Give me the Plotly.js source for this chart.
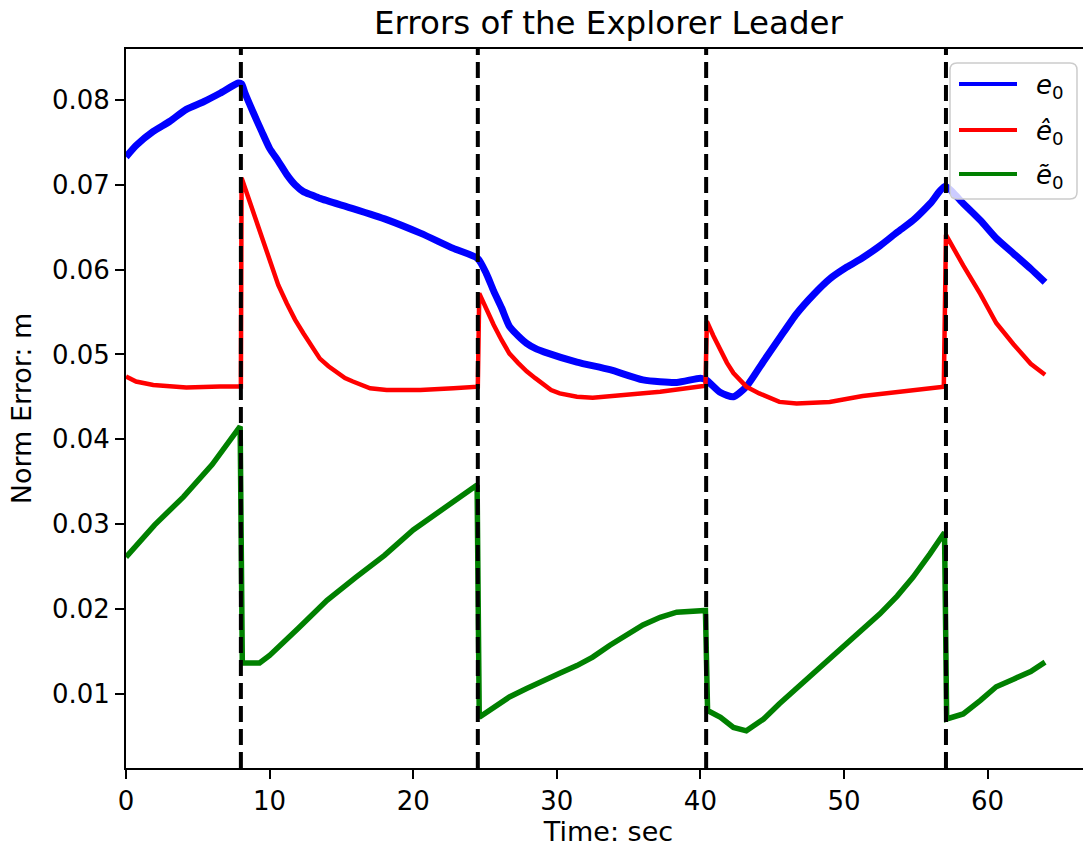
<!DOCTYPE html>
<html>
<head>
<meta charset="utf-8">
<script src="https://cdn.plot.ly/plotly-3.0.1.min.js"></script>
<style>
  html, body { margin: 0; padding: 0; overflow: hidden; background: #fff; }
  #chart { width: 1091px; height: 854px; }
</style>
</head>
<body>
<div id="chart"></div>
<script>
// Time stamps (s) and norm errors (m) for each estimate
const tE = [0, 0.74, 1.9, 3.06, 4.2, 5.4, 6.55, 7.82, 8.05, 8.29, 8.87, 9.45, 10.0, 10.6, 11.2, 11.77, 12.35, 12.93, 13.5, 15.8, 18.15, 20.5, 22.8, 24.5,
            25.1, 25.6, 26.15, 26.7, 27.3, 27.9, 28.5, 29.1, 31.4, 33.7, 36.0, 38.35, 40.0, 40.4, 41.4, 42.3, 43.2, 44.4, 45.5, 46.7, 47.9, 49.0,
            50.2, 51.3, 52.5, 53.7, 54.8, 56.0, 57.05, 58.3, 59.5, 60.6, 61.8, 63.0, 64.0];
const e0 = [0.0733, 0.0747, 0.0763, 0.0775, 0.0789, 0.0798, 0.0808, 0.0820, 0.0819, 0.0808, 0.0785, 0.0763, 0.0743, 0.0728, 0.0712, 0.0700, 0.0692, 0.0688, 0.0684, 0.0672, 0.0659, 0.0643, 0.0625, 0.0613,
            0.0595, 0.0575, 0.0555, 0.0533, 0.0522, 0.0513, 0.0507, 0.0503, 0.0491, 0.0482, 0.0470, 0.0467, 0.0472, 0.0470, 0.0455, 0.0450, 0.0462, 0.0492, 0.0519, 0.0548, 0.0571, 0.0589,
            0.0603, 0.0614, 0.0628, 0.0644, 0.0658, 0.0678, 0.0698, 0.0678, 0.0658, 0.0637, 0.0619, 0.0601, 0.0585];

const tHat = [0, 0.7, 1.9, 4.2, 6.55, 8.0, 8.05, 8.87, 9.45, 10.0, 10.6, 11.2, 11.77, 12.35, 12.93, 13.5, 14.1, 14.7, 15.25, 15.8, 17.0, 18.15, 20.5, 22.8, 24.5,
              24.6, 25.1, 25.6, 26.15, 26.7, 27.3, 27.9, 28.5, 29.1, 29.6, 30.2, 31.4, 32.5, 34.9, 37.2, 40.35,
              40.45, 40.9, 41.4, 41.85, 42.3, 43.2, 44.1, 45.5, 46.7, 49.0, 51.3, 53.7, 56.95,
              57.1, 57.6, 58.3, 59.5, 60.6, 61.8, 63.0, 64.0];
const eHat = [0.0474, 0.0468, 0.0464, 0.0461, 0.0462, 0.0462, 0.0708, 0.0667, 0.0637, 0.0608, 0.0582, 0.0560, 0.0541, 0.0525, 0.0509, 0.0495, 0.0486, 0.0478, 0.0472, 0.0468, 0.0460, 0.0458, 0.0458, 0.0460, 0.0462,
              0.0572, 0.0552, 0.0535, 0.0517, 0.0501, 0.0490, 0.0480, 0.0472, 0.0464, 0.0458, 0.0454, 0.0450, 0.0449, 0.0452, 0.0456, 0.0463,
              0.0539, 0.0522, 0.0505, 0.0490, 0.0478, 0.0462, 0.0454, 0.0444, 0.0442, 0.0444, 0.0451, 0.0456, 0.0462,
              0.0641, 0.0625, 0.0605, 0.0571, 0.0537, 0.0512, 0.0489, 0.0476];

const tTil = [0, 2, 4, 6, 7.95, 8.1, 9.3, 10, 12, 14, 16, 18, 20, 22, 24.45,
              24.6, 25.6, 26.7, 27.9, 29.1, 30.2, 31.4, 32.5, 33.7, 34.9, 36.0, 37.2, 38.35, 40.35,
              40.5, 41.4, 42.3, 43.2, 44.4, 45.5, 46.7, 47.9, 49.0, 50.2, 51.3, 52.5, 53.7, 54.8, 56.0, 57.0,
              57.15, 58.3, 59.5, 60.6, 61.8, 63.0, 64.0];
const eTil = [0.0261, 0.0299, 0.0332, 0.0370, 0.0415, 0.0136, 0.0136, 0.0145, 0.0177, 0.0210, 0.0237, 0.0263, 0.0293, 0.0316, 0.0346,
              0.0072, 0.0084, 0.0096, 0.0106, 0.0116, 0.0124, 0.0133, 0.0143, 0.0157, 0.0169, 0.0181, 0.0190, 0.0196, 0.0198,
              0.0080, 0.0072, 0.0060, 0.0056, 0.0070, 0.0088, 0.0106, 0.0124, 0.0142, 0.0158, 0.0176, 0.0194, 0.0215, 0.0237, 0.0265, 0.0290,
              0.0070, 0.0076, 0.0092, 0.0108, 0.0117, 0.0126, 0.0137];

// Switching instants marked with dashed lines
const switchTimes = [8.0, 24.5, 40.4, 57.1];

const xTicks = [0, 10, 20, 30, 40, 50, 60];
const yTicks = [0.01, 0.02, 0.03, 0.04, 0.05, 0.06, 0.07, 0.08];

const seriesNames = ['<i>e</i><sub>0</sub>', '<i>ê</i><sub>0</sub>', '<i>ẽ</i><sub>0</sub>'];
const seriesColors = ['#0000ff', '#ff0000', '#008000'];

const FONT = 'DejaVu Sans, Liberation Sans, sans-serif';
const W = 1091, H = 854;
const M = { l: 126, r: 0, t: 49, b: 86 };
const plotW = W - M.l - M.r, plotH = H - M.t - M.b;
const px2x = p => (p - M.l) / plotW;
const px2y = p => (H - M.b - p) / plotH;

const traces = [
  { x: tE, y: e0, name: seriesNames[0], line: { color: seriesColors[0], width: 7, shape: 'spline', smoothing: 0.6 } },
  { x: tHat, y: eHat, name: seriesNames[1], line: { color: seriesColors[1], width: 4.5 } },
  { x: tTil, y: eTil, name: seriesNames[2], line: { color: seriesColors[2], width: 5.5 } }
].map(t => Object.assign(t, { type: 'scatter', mode: 'lines', showlegend: false, hoverinfo: 'skip' }));

const shapes = switchTimes.map(t => ({
  type: 'line', xref: 'x', yref: 'paper', x0: t, x1: t, y0: 0, y1: 1,
  line: { color: '#000', width: 4, dash: '16px,7px' }
}));

// Legend frame with rounded corners
const box = { l: 950, t: 63, r: 1077, b: 199, rad: 7 };
const P = (x, y) => px2x(x).toFixed(5) + ',' + px2y(y).toFixed(5);
const framePath =
  'M' + P(box.l + box.rad, box.t) +
  ' L' + P(box.r - box.rad, box.t) +
  ' Q' + P(box.r, box.t) + ' ' + P(box.r, box.t + box.rad) +
  ' L' + P(box.r, box.b - box.rad) +
  ' Q' + P(box.r, box.b) + ' ' + P(box.r - box.rad, box.b) +
  ' L' + P(box.l + box.rad, box.b) +
  ' Q' + P(box.l, box.b) + ' ' + P(box.l, box.b - box.rad) +
  ' L' + P(box.l, box.t + box.rad) +
  ' Q' + P(box.l, box.t) + ' ' + P(box.l + box.rad, box.t) + ' Z';
shapes.push({
  type: 'path', xref: 'paper', yref: 'paper', path: framePath,
  fillcolor: 'rgba(255,255,255,0.8)', line: { color: '#cccccc', width: 1.5 }, layer: 'above'
});

const rowY = [84, 130, 174];
const annotations = [];
rowY.forEach((py, i) => {
  shapes.push({
    type: 'line', xref: 'paper', yref: 'paper',
    x0: px2x(959), x1: px2x(1017), y0: px2y(py), y1: px2y(py),
    line: { color: seriesColors[i], width: 4 }, layer: 'above'
  });
  annotations.push({
    xref: 'paper', yref: 'paper', x: px2x(1034), y: px2y(py + 2),
    xanchor: 'left', yanchor: 'middle', showarrow: false,
    text: seriesNames[i], font: { family: FONT, size: 26, color: '#000' }
  });
});

const axisCommon = {
  showgrid: false, zeroline: false, showline: true, mirror: true,
  linecolor: '#000', linewidth: 2, ticks: 'outside', ticklen: 9, tickwidth: 2, tickcolor: '#000',
  tickfont: { family: FONT, size: 26, color: '#000' }
};

const layout = {
  width: W, height: H, margin: M,
  paper_bgcolor: '#fff', plot_bgcolor: '#fff',
  font: { family: FONT, color: '#000' },
  title: {
    text: 'Errors of the Explorer Leader', font: { family: FONT, size: 32.5, color: '#000' },
    x: 0.5, xref: 'paper', xanchor: 'center', y: 1 - 23 / H, yref: 'container', yanchor: 'middle'
  },
  xaxis: Object.assign({}, axisCommon, {
    range: [0, 67.2], tickvals: xTicks, ticktext: xTicks.map(String),
    title: { text: 'Time: sec', font: { family: FONT, size: 27, color: '#000' }, standoff: 6 }
  }),
  yaxis: Object.assign({}, axisCommon, {
    range: [0.00122, 0.08602], tickvals: yTicks, ticktext: yTicks.map(v => v.toFixed(2)),
    title: { text: 'Norm Error: m', font: { family: FONT, size: 27, color: '#000' }, standoff: 12 }
  }),
  shapes: shapes,
  annotations: annotations,
  showlegend: false
};

Plotly.newPlot('chart', traces, layout, { staticPlot: true, displayModeBar: false });
</script>
</body>
</html>
